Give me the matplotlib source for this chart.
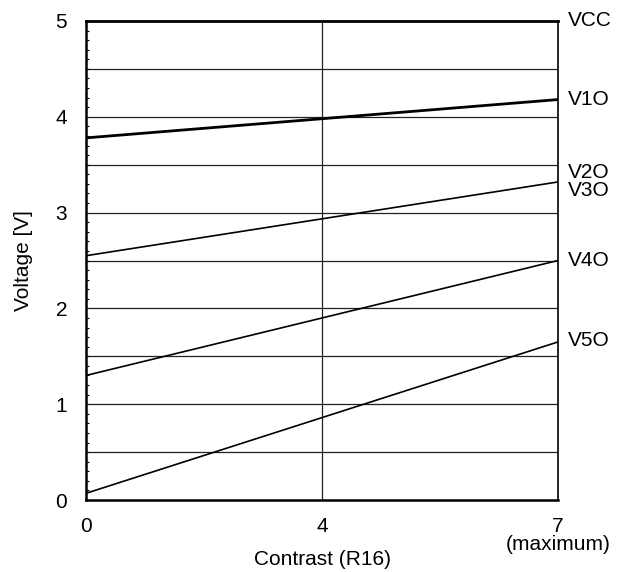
import numpy as np
import matplotlib.pyplot as plt
from matplotlib.ticker import MultipleLocator

# contrast setting (R16) at the two ends
contrast = [0, 7]

# output voltages
vcc = [5.0, 5.0]
v1o = [3.78, 4.18]
v3o = [2.55, 3.32]
v4o = [1.30, 2.50]
v5o = [0.07, 1.65]

xticks = [0, 4, 7]
xtick_labels = ['0', '4', '7\n(maximum)']
yticks = [0, 1, 2, 3, 4, 5]

plt.rcParams['font.family'] = ['Liberation Sans', 'DejaVu Sans']

fig = plt.figure(figsize=(6.35, 5.72), dpi=100)
ax = fig.add_axes([86/635, 72/572, (558-86)/635, (500-21)/572])

# the contrast axis is not linear: 4 sits in the middle
xp = [0, 4, 7]
fp = [0, 0.5, 1]
ax.set_xscale('function', functions=(lambda v: np.interp(v, xp, fp),
                                     lambda v: np.interp(v, fp, xp)))

# grid: horizontal every 0.5 V, one vertical at 4
for g in [0.5, 1, 1.5, 2, 2.5, 3, 3.5, 4, 4.5]:
    ax.axhline(g, color='#222222', lw=0.9, zorder=1)
ax.axvline(4, color='#222222', lw=0.9, zorder=1)

ax.plot(contrast, vcc, color='black', lw=2.0, zorder=3, clip_on=False)
ax.plot(contrast, v1o, color='black', lw=2.0, zorder=3)
ax.plot(contrast, v3o, color='black', lw=1.2, zorder=3)
ax.plot(contrast, v4o, color='black', lw=1.2, zorder=3)
ax.plot(contrast, v5o, color='black', lw=1.2, zorder=3)

# labels at the right end of the lines
labels = [('VCC', vcc[1], 0), ('V1O', v1o[1], 0), ('V2O', v3o[1], 7),
          ('V3O', v3o[1], -6), ('V4O', v4o[1], 0), ('V5O', v5o[1], 1)]
for name, yv, dy in labels:
    ax.annotate(name, xy=(7, yv), xytext=(7, dy), textcoords='offset points',
                ha='left', va='center', fontsize=15, annotation_clip=False)

ax.set_xlim(0, 7)
ax.set_ylim(0, 5)
ax.set_xticks(xticks)
ax.set_xticklabels(xtick_labels, fontsize=15, linespacing=0.95)
ax.set_yticks(yticks)
ax.tick_params(axis='x', length=0, pad=12)
ax.tick_params(axis='y', which='major', length=0, pad=13.5, labelsize=15)
ax.yaxis.set_minor_locator(MultipleLocator(0.1))
ax.tick_params(axis='y', which='minor', direction='in', length=2.5, width=0.8)

ax.spines['top'].set_visible(False)
ax.spines['left'].set_linewidth(1.8)
ax.spines['bottom'].set_linewidth(1.8)
ax.spines['right'].set_linewidth(1.2)

ax.set_xlabel('Contrast (R16)', fontsize=15)
ax.xaxis.set_label_coords(0.5, -0.104)
ax.set_ylabel('Voltage [V]', fontsize=15)
ax.yaxis.set_label_coords(-0.112, 0.5)

fig.savefig('out.png', dpi=100)
